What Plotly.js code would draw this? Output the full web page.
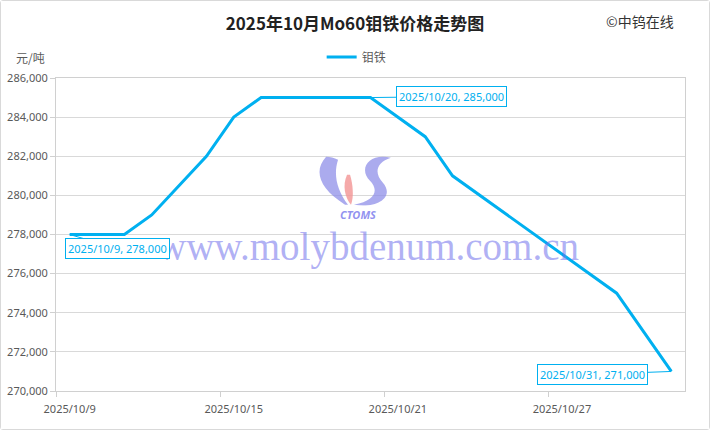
<!DOCTYPE html>
<html>
<head>
<meta charset="utf-8">
<script src="https://cdn.plot.ly/plotly-3.0.1.min.js"></script>
<style>
html,body{margin:0;padding:0;background:#fff;}
#chart{width:708px;height:428px;border:1px solid #d9d9d9;border-radius:3px;}
</style>
</head>
<body>
<div id="chart"></div>
<script>
// ---- data ----
const dates = ['2025-10-09','2025-10-11','2025-10-12','2025-10-14','2025-10-15','2025-10-16','2025-10-20','2025-10-22','2025-10-23','2025-10-29','2025-10-31'];
const prices = [278000,278000,279000,282000,284000,285000,285000,283000,281000,275000,271000];
const seriesName = '钼铁';
const xTickVals = ['2025-10-09','2025-10-15','2025-10-21','2025-10-27'];
const xTickText = ['2025/10/9','2025/10/15','2025/10/21','2025/10/27'];
const yTickVals = [270000,272000,274000,276000,278000,280000,282000,284000,286000];
const labelIdx = [0, 6, 10];

const blue = '#00B0F0';
const font = '"Noto Sans", "Open Sans", sans-serif';
const cjk = '"Noto Sans CJK SC", "Noto Sans", sans-serif';

function fmtDate(d){const p=d.split('-');return p[0]+'/'+(+p[1])+'/'+(+p[2]);}
function fmtNum(v){return v.toLocaleString('en-US');}

const offsets = [[48,14],[81,-1],[-79,3]];
const labelAnns = labelIdx.map((i,k)=>({
  x: dates[i], y: prices[i], xref:'x', yref:'y',
  text: fmtDate(dates[i])+', '+fmtNum(prices[i]),
  showarrow:true, arrowhead:0, arrowwidth:1, arrowcolor:blue,
  ax: offsets[k][0], ay: offsets[k][1],
  bordercolor: blue, borderwidth:1, borderpad:2, bgcolor:'#fff',
  font:{family:font, size:11, color:blue}
}));

const logoSvg = '<svg xmlns="http://www.w3.org/2000/svg" viewBox="0 0 77 51" preserveAspectRatio="none">'+
 '<path d="M11,2 C-2,16 4,34 30,50 L33,50 C22,36 18,20 23,5 C19,3 15,2 11,2 Z" fill="#8a8ae8" fill-opacity="0.72"/>'+
 '<path d="M32,20 C27,31 30,43 36,50 C39,42 38,30 35,20 Z" fill="#f29494" fill-opacity="0.8"/>'+
 '<path d="M76,3 C54,-2 43,14 55,26 C64,35 61,46 39,50 C63,54 80,42 68,28 C59,18 61,8 76,3 Z" fill="#8a8ae8" fill-opacity="0.72"/>'+
 '</svg>';

const data = [{
  x: dates, y: prices, type:'scatter', mode:'lines', name: seriesName,
  line:{color:blue, width:3}, hoverinfo:'skip'
}];

const layout = {
  width:708, height:428,
  margin:{l:55, r:24, t:77, b:38},
  paper_bgcolor:'#fff', plot_bgcolor:'#fff',
  title:{text:'2025年10月Mo60钼铁价格走势图', x:0.5, xref:'container', y:0.945, yanchor:'middle',
    font:{family:cjk, size:17, color:'#222', weight:'bold'}},
  showlegend:true,
  legend:{orientation:'h', x:0.478, xanchor:'center', y:1.067, yanchor:'middle',
    font:{family:cjk, size:12, color:'#595959'}, bgcolor:'rgba(0,0,0,0)'},
  xaxis:{
    type:'date', range:['2025-10-08 12:00','2025-10-31 12:00'],
    tickmode:'array', tickvals:xTickVals, ticktext:xTickText,
    ticks:'', showgrid:false, zeroline:false, ticklabelstandoff:8,
    showline:true, linecolor:'#d0d0d0', linewidth:1, mirror:true,
    tickfont:{family:font, size:11, color:'#595959'},
    minor:{tickmode:'array', tickvals:['2025-10-08 12:00','2025-10-14 12:00','2025-10-20 12:00','2025-10-26 12:00'],
      ticks:'outside', ticklen:5, tickcolor:'#d0d0d0', showgrid:false}
  },
  yaxis:{
    range:[270000,286000], tickmode:'array', tickvals:yTickVals,
    tickformat:',d', ticks:'outside', ticklen:5, tickcolor:'#d0d0d0',
    showgrid:true, gridcolor:'#d9d9d9', gridwidth:1, zeroline:false,
    showline:true, linecolor:'#d0d0d0', linewidth:1, mirror:true,
    tickfont:{family:font, size:11, color:'#595959'}
  },
  images:[{
    source:'data:image/svg+xml;charset=utf-8,'+encodeURIComponent(logoSvg),
    xref:'paper', yref:'paper', x:0.412, y:0.755, sizex:0.122, sizey:0.163,
    xanchor:'left', yanchor:'top', sizing:'stretch', layer:'above', opacity:1
  }],
  annotations:[
    {text:'www.molybdenum.com.cn', xref:'paper', yref:'paper', x:0.497, y:0.46, xanchor:'center', yanchor:'middle',
     showarrow:false, font:{family:'"Liberation Serif","DejaVu Serif",serif', size:39, color:'rgba(110,110,235,0.55)'}},
    {text:'<i><b>CTOMS</b></i>', xref:'paper', yref:'paper', x:0.48, y:0.565, xanchor:'center', yanchor:'middle',
     showarrow:false, font:{family:font, size:11, color:'rgba(110,110,235,0.75)'}},
    {text:'©中钨在线', xref:'paper', yref:'paper', x:0.928, y:1.182, xanchor:'center', yanchor:'middle', showarrow:false,
     font:{family:cjk, size:14, color:'#333'}},
    {text:'元/吨', xref:'paper', yref:'paper', x:-0.041, y:1.067, xanchor:'center', yanchor:'middle', showarrow:false,
     font:{family:cjk, size:12, color:'#595959'}},
    ...labelAnns
  ]
};

Plotly.newPlot('chart', data, layout, {displayModeBar:false, staticPlot:true});
</script>
</body>
</html>
